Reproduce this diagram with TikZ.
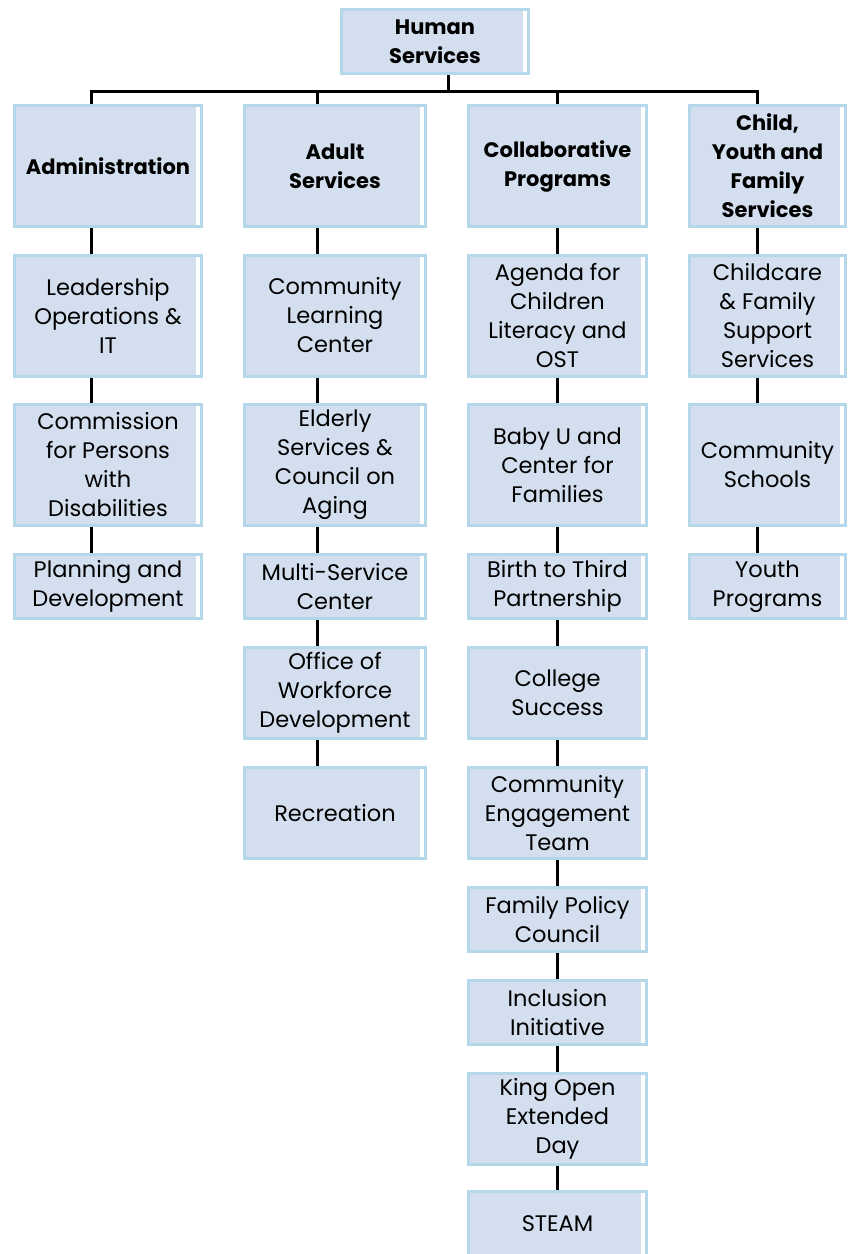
\documentclass[tikz,border=0pt]{standalone}
\usepackage{fontspec}
\setmainfont{Poppins}
\definecolor{boxfill}{RGB}{211,223,238}
\definecolor{boxline}{RGB}{180,216,233}
\begin{document}
\begin{tikzpicture}[
x=1pt,y=-1pt,
every node/.style={
draw=boxline,
fill=boxfill,
line width=3pt,
align=center,
inner sep=0pt,
font=\fontsize{22.5}{29}\selectfont,
path picture={\fill[white] ([xshift=-6pt]path picture bounding box.north east)
rectangle ([xshift=-1.5pt]path picture bounding box.south east);}
},
head/.style={font=\fontsize{21}{29}\selectfont\bfseries},
colA/.style={minimum width=187pt},
colB/.style={minimum width=181pt},
colC/.style={minimum width=178pt},
colD/.style={minimum width=156pt},
tall/.style={minimum height=121pt},
mid/.style={minimum height=91pt},
low/.style={minimum height=64pt},
conn/.style={draw=black,line width=3pt}
]
\useasboundingbox (0,0) rectangle (850,1254);

% top
\node[head,colA,low] (HS) at (435,41.5) {Human\\Services};

% administration
\node[head,colA,tall] (A0) at (108,166) {Administration};
\node[colA,tall] (A1) at (108,315.5) {Leadership\\Operations \&\\IT};
\node[colA,tall] (A2) at (108,465) {Commission\\for Persons\\with\\Disabilities};
\node[colA,low] (A3) at (108,586.5) {Planning and\\Development};

% adult services
\node[head,colB,tall] (B0) at (335,166) {Adult\\Services};
\node[colB,tall] (B1) at (335,315.5) {Community\\Learning\\Center};
\node[colB,tall] (B2) at (335,465) {Elderly\\Services \&\\Council on\\Aging};
\node[colB,low] (B3) at (335,586.5) {Multi-Service\\Center};
\node[colB,mid] (B4) at (335,693) {Office of\\Workforce\\Development};
\node[colB,mid] (B5) at (335,813) {Recreation};

% collaborative programs
\node[head,colC,tall] (C0) at (557.5,166) {Collaborative\\Programs};
\node[colC,tall] (C1) at (557.5,315.5) {Agenda for\\Children\\Literacy and\\OST};
\node[colC,tall] (C2) at (557.5,465) {Baby U and\\Center for\\Families};
\node[colC,low] (C3) at (557.5,586.5) {Birth to Third\\Partnership};
\node[colC,mid] (C4) at (557.5,693) {College\\Success};
\node[colC,mid] (C5) at (557.5,813) {Community\\Engagement\\Team};
\node[colC,low] (C6) at (557.5,919.5) {Family Policy\\Council};
\node[colC,low] (C7) at (557.5,1012.5) {Inclusion\\Initiative};
\node[colC,mid] (C8) at (557.5,1118.5) {King Open\\Extended\\Day};
\node[colC,low] (C9) at (557.5,1223.5) {STEAM};

% child, youth and family services
\node[head,colD,tall] (D0) at (767.5,166) {Child,\\Youth and\\Family\\Services};
\node[colD,tall] (D1) at (767.5,315.5) {Childcare\\\& Family\\Support\\Services};
\node[colD,tall] (D2) at (767.5,465) {Community\\Schools};
\node[colD,low] (D3) at (767.5,586.5) {Youth\\Programs};

% line positions
\coordinate (bar) at (0,91);
\coordinate (lt) at (448,0);
\coordinate (la) at (91,0);
\coordinate (lb) at (317,0);
\coordinate (lc) at (557,0);
\coordinate (ld) at (757,0);

\draw[conn] (HS.south -| lt) -- (lt |- bar);
\draw[conn] ([xshift=-1.5pt]la |- bar) -- ([xshift=1.5pt]ld |- bar);
\draw[conn] (la |- bar) -- (A0.north -| la);
\draw[conn] (lb |- bar) -- (B0.north -| lb);
\draw[conn] (lc |- bar) -- (C0.north -| lc);
\draw[conn] (ld |- bar) -- (D0.north -| ld);

\draw[conn] (A0.south -| la) -- (A1.north -| la);
\draw[conn] (A1.south -| la) -- (A2.north -| la);
\draw[conn] (A2.south -| la) -- (A3.north -| la);

\draw[conn] (B0.south -| lb) -- (B1.north -| lb);
\draw[conn] (B1.south -| lb) -- (B2.north -| lb);
\draw[conn] (B2.south -| lb) -- (B3.north -| lb);
\draw[conn] (B3.south -| lb) -- (B4.north -| lb);
\draw[conn] (B4.south -| lb) -- (B5.north -| lb);

\draw[conn] (C0.south -| lc) -- (C1.north -| lc);
\draw[conn] (C1.south -| lc) -- (C2.north -| lc);
\draw[conn] (C2.south -| lc) -- (C3.north -| lc);
\draw[conn] (C3.south -| lc) -- (C4.north -| lc);
\draw[conn] (C4.south -| lc) -- (C5.north -| lc);
\draw[conn] (C5.south -| lc) -- (C6.north -| lc);
\draw[conn] (C6.south -| lc) -- (C7.north -| lc);
\draw[conn] (C7.south -| lc) -- (C8.north -| lc);
\draw[conn] (C8.south -| lc) -- (C9.north -| lc);

\draw[conn] (D0.south -| ld) -- (D1.north -| ld);
\draw[conn] (D1.south -| ld) -- (D2.north -| ld);
\draw[conn] (D2.south -| ld) -- (D3.north -| ld);

\end{tikzpicture}
\end{document}
